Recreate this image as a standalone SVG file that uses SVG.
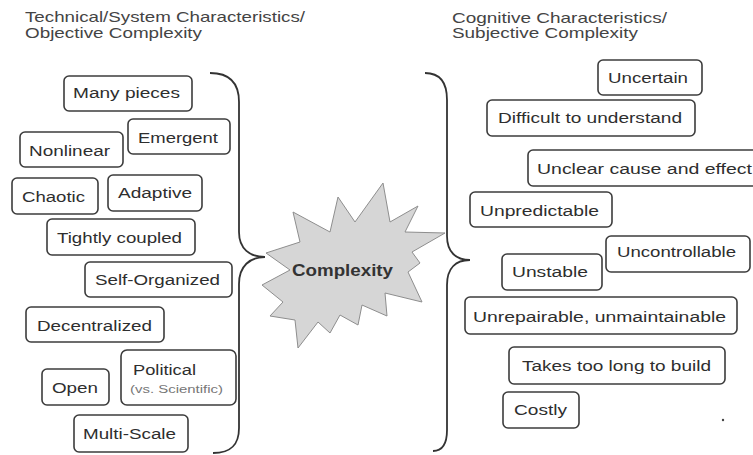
<svg xmlns="http://www.w3.org/2000/svg" width="753" height="455" viewBox="0 0 753 455">
  <style>
    .hdr { font-family: "Liberation Sans", Arial, sans-serif; font-size: 14.5px; fill: #444; }
    .box rect { fill: #fff; stroke: #3c3c3c; stroke-width: 1.6; }
    .box text { font-family: "Liberation Sans", Arial, sans-serif; font-size: 15.5px; fill: #2e2e2e; }
    .box text.sub { font-size: 10px; fill: #777; }
    .brace { fill: none; stroke: #333; stroke-width: 1.8; }
    .star polygon { fill: #d6d6d6; stroke: #8e8e8e; stroke-width: 1; }
    .star text { font-family: "Liberation Sans", Arial, sans-serif; font-size: 16px; font-weight: bold; fill: #333; }
  </style>

  <rect width="753" height="455" fill="#fff"/>

  <!-- column headings -->
  <g id="heading-objective">
    <text class="hdr" x="25" y="22" textLength="280" lengthAdjust="spacingAndGlyphs">Technical/System Characteristics/</text>
    <text class="hdr" x="25" y="38" textLength="177" lengthAdjust="spacingAndGlyphs">Objective Complexity</text>
  </g>
  <g id="heading-subjective">
    <text class="hdr" x="452" y="23" textLength="215" lengthAdjust="spacingAndGlyphs">Cognitive Characteristics/</text>
    <text class="hdr" x="452" y="38" textLength="186" lengthAdjust="spacingAndGlyphs">Subjective Complexity</text>
  </g>

  <!-- left column: technical characteristics -->
  <g id="many-pieces" class="box"><rect x="64" y="76" width="128" height="35" rx="5"/><text x="73" y="98" textLength="107" lengthAdjust="spacingAndGlyphs">Many pieces</text></g>
  <g id="emergent" class="box"><rect x="128" y="119" width="102" height="35" rx="5"/><text x="138" y="143" textLength="80" lengthAdjust="spacingAndGlyphs">Emergent</text></g>
  <g id="nonlinear" class="box"><rect x="20" y="132" width="103" height="35" rx="5"/><text x="29" y="156" textLength="81" lengthAdjust="spacingAndGlyphs">Nonlinear</text></g>
  <g id="chaotic" class="box"><rect x="12" y="178" width="86" height="36" rx="5"/><text x="22" y="202" textLength="63" lengthAdjust="spacingAndGlyphs">Chaotic</text></g>
  <g id="adaptive" class="box"><rect x="108" y="175" width="94" height="36" rx="5"/><text x="118" y="198" textLength="74" lengthAdjust="spacingAndGlyphs">Adaptive</text></g>
  <g id="tightly-coupled" class="box"><rect x="47" y="219" width="148" height="36" rx="5"/><text x="57" y="243" textLength="125" lengthAdjust="spacingAndGlyphs">Tightly coupled</text></g>
  <g id="self-organized" class="box"><rect x="85" y="262" width="147" height="35" rx="5"/><text x="95" y="285" textLength="125" lengthAdjust="spacingAndGlyphs">Self-Organized</text></g>
  <g id="decentralized" class="box"><rect x="26" y="307" width="138" height="35" rx="5"/><text x="37" y="331" textLength="115" lengthAdjust="spacingAndGlyphs">Decentralized</text></g>
  <g id="political" class="box"><rect x="121" y="350" width="115" height="55" rx="6"/><text x="133" y="375" textLength="63" lengthAdjust="spacingAndGlyphs">Political</text><text class="sub" x="130" y="393" textLength="93" lengthAdjust="spacingAndGlyphs">(vs. Scientific)</text></g>
  <g id="open" class="box"><rect x="42" y="369" width="67" height="36" rx="5"/><text x="52" y="393" textLength="46" lengthAdjust="spacingAndGlyphs">Open</text></g>
  <g id="multi-scale" class="box"><rect x="74" y="415" width="114" height="37" rx="5"/><text x="83" y="439" textLength="93" lengthAdjust="spacingAndGlyphs">Multi-Scale</text></g>

  <!-- right column: cognitive characteristics -->
  <g id="uncertain" class="box"><rect x="598" y="60" width="104" height="35" rx="5"/><text x="608" y="83" textLength="80" lengthAdjust="spacingAndGlyphs">Uncertain</text></g>
  <g id="difficult" class="box"><rect x="487" y="100" width="208" height="36" rx="5"/><text x="498" y="123" textLength="184" lengthAdjust="spacingAndGlyphs">Difficult to understand</text></g>
  <g id="unclear" class="box"><rect x="528" y="150" width="230" height="36" rx="5"/><text x="537" y="174" textLength="215" lengthAdjust="spacingAndGlyphs">Unclear cause and effect</text></g>
  <g id="unpredictable" class="box"><rect x="470" y="192" width="142" height="35" rx="5"/><text x="480" y="216" textLength="119" lengthAdjust="spacingAndGlyphs">Unpredictable</text></g>
  <g id="uncontrollable" class="box"><rect x="606" y="236" width="144" height="36" rx="5"/><text x="617" y="257" textLength="119" lengthAdjust="spacingAndGlyphs">Uncontrollable</text></g>
  <g id="unstable" class="box"><rect x="502" y="254" width="100" height="36" rx="5"/><text x="512" y="277" textLength="76" lengthAdjust="spacingAndGlyphs">Unstable</text></g>
  <g id="unrepairable" class="box"><rect x="465" y="297" width="272" height="37" rx="5"/><text x="473" y="322" textLength="253" lengthAdjust="spacingAndGlyphs">Unrepairable, unmaintainable</text></g>
  <g id="takes-too-long" class="box"><rect x="509" y="347" width="216" height="37" rx="5"/><text x="522" y="371" textLength="189" lengthAdjust="spacingAndGlyphs">Takes too long to build</text></g>
  <g id="costly" class="box"><rect x="503" y="392" width="76" height="36" rx="5"/><text x="514" y="415" textLength="53" lengthAdjust="spacingAndGlyphs">Costly</text></g>
  <circle cx="723" cy="420" r="1.2" fill="#444"/>

  <!-- central burst -->
  <g id="complexity" class="star">
    <polygon points="383,183 390,222 418,206 405,232 445,233 412,252 420,263 408,272 422,302 385,293 387,316 362,305 358,325 340,315 330,333 318,322 298,348 295,320 270,316 283,302 262,285 290,270 266,253 300,242 293,212 330,232 338,197 355,222"/>
    <text x="292" y="276" textLength="101" lengthAdjust="spacingAndGlyphs">Complexity</text>
  </g>

  <!-- connectors: braces gathering each column into the centre -->
  <g id="connectors">
    <path class="brace" d="M210,73 C231,73 239,84 239,102 L239,232 C239,249 250,257 265,257 C250,257 239,266 239,284 L239,428 C239,445 231,453 213,453"/>
    <path class="brace" d="M425,73 C441,73 447,84 447,100 L447,236 C447,252 456,260 470,260 C456,260 447,268 447,285 L447,430 C447,445 441,451 433,451"/>
  </g>
</svg>
